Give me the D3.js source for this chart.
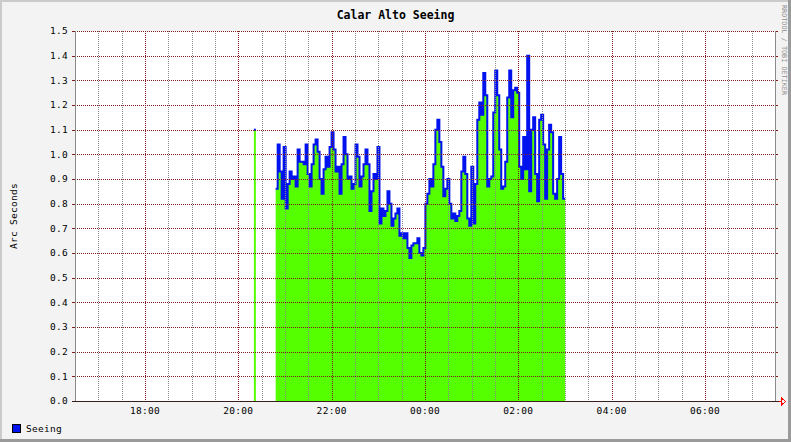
<!DOCTYPE html>
<html>
<head>
<meta charset="utf-8">
<script src="https://cdn.jsdelivr.net/npm/d3@7"></script>
<style>
	body { margin: 0; background: #f3f3f3; }
	svg { display: block; font-family: "DejaVu Sans Mono", monospace; }
</style>
</head>
<body>
<div id="graph"></div>
<script>
let width = 791;
let height = 442;

// plot area of the rrd graph (canvas)
let padding = {
	top: 31,
	right: 16,
	bottom: 41,
	left: 75
	};

// time window shown on the x axis (16:30 -> 07:30 next morning)
let windowStart = "16:30";
let windowEnd = "07:30";

// seeing samples, evenly spaced from sampleStart, one every sampleStep seconds
let sampleStart = "20:48";
let sampleStep = 154;
let seeing = [
	0.86, 1.04, 0.93, 0.82, 1.03, 0.78, 0.88, 0.93, 0.90, 0.91, 0.87, 1.02, 0.97, 0.97, 0.96,
	1.04, 0.92, 0.87, 0.96, 1.04, 1.06, 1.01, 0.90, 0.84, 0.94, 0.99, 0.95, 1.03, 1.09,
	1.02, 0.93, 0.95, 0.84, 0.96, 1.07, 1.00, 0.90, 0.91, 0.86, 0.88, 1.04, 0.99, 0.87, 0.91,
	0.96, 1.02, 0.96, 0.77, 0.85, 0.92, 0.90, 1.03, 0.72, 0.78, 0.75, 0.77, 0.85, 0.80, 0.71,
	0.74, 0.76, 0.78, 0.67, 0.68, 0.66, 0.68, 0.62, 0.58, 0.63, 0.64, 0.64, 0.66, 0.60, 0.59,
	0.62, 0.80, 0.84, 0.90, 0.87, 0.96, 1.10, 1.14, 1.05, 0.95, 0.83, 0.86, 0.90, 0.80, 0.74,
	0.76, 0.73, 0.75, 0.77, 0.93, 0.99, 0.92, 0.74, 0.71, 0.95, 0.72, 0.88, 1.14, 1.21, 1.16,
	1.33, 1.24, 0.87, 0.90, 0.91, 1.17, 1.34, 1.24, 1.02, 0.86, 0.87, 0.97, 1.23, 1.34, 1.15,
	1.26, 1.27, 1.25, 0.95, 0.90, 1.07, 0.94, 1.40, 0.85, 1.10, 1.15, 0.92, 0.81, 1.14, 1.16,
	1.04, 0.82, 1.02, 1.12, 1.09, 0.84, 0.82, 0.90, 1.07, 0.92, 0.82
	];

// lone sample earlier in the evening
let spikeTimes = ["20:20"];
let spikeValues = [1.10];

let yTickLabels = ["0.0", "0.1", "0.2", "0.3", "0.4", "0.5", "0.6", "0.7",
	"0.8", "0.9", "1.0", "1.1", "1.2", "1.3", "1.4", "1.5"];
let xTickLabels = ["18:00", "20:00", "22:00", "00:00", "02:00", "04:00", "06:00"];

let colours = {
	back: "#f3f3f3",
	canvas: "#ffffff",
	shadeA: "#cbcbcb",
	shadeB: "#9a9a9a",
	grid: "#8c8c8c",
	mgrid: "#821e1e",
	area: "#55ff00",
	line: "#0012ee",
	arrow: "#ff0000"
	};

let svg;
let xScale;
let yScale;


// "HH:MM" -> Date; morning hours belong to the next day
function toDate(hm) {
	let [h, m] = hm.split(":").map(Number);
	let day = h < 12 ? 16 : 15;
	return new Date(2009, 5, day, h, m, 0);
	}

function crisp(v) {
	return Math.round(v) + 0.5;
	}


svg = d3.select("#graph")
	.append("svg")
		.attr("width", width)
		.attr("height", height)
	;

// background + 3d border
svg.append("rect")
	.attr("width", width)
	.attr("height", height)
	.attr("fill", colours.back)
	;
svg.append("path")
	.attr("d", `M1,${height} V1 H${width}`)
	.attr("fill", "none")
	.attr("stroke", colours.shadeA)
	.attr("stroke-width", 2)
	;
svg.append("path")
	.attr("d", `M0,${height - 1.5} H${width - 1.5} V0`)
	.attr("fill", "none")
	.attr("stroke", colours.shadeB)
	.attr("stroke-width", 3)
	;

let x0 = padding.left;
let x1 = width - padding.right;
let y0 = height - padding.bottom;
let y1 = padding.top;

svg.append("rect")
	.attr("x", x0)
	.attr("y", y1)
	.attr("width", x1 - x0)
	.attr("height", y0 - y1)
	.attr("fill", colours.canvas)
	;


xScale = d3.scaleTime()
	.domain([toDate(windowStart), toDate(windowEnd)])
	.range([x0, x1])
	;
yScale = d3.scaleLinear()
	.domain([0, 1.5])
	.range([y0, y1])
	;


// build the sample records
let t0 = toDate(sampleStart);
let mainRun = seeing.map((v, i) => ({
	t: new Date(t0.getTime() + i * sampleStep * 1000),
	v: v
	}));
let spikeRun = spikeTimes.map((s, i) => ({ t: toDate(s), v: spikeValues[i] }));

// close each run with an end point so the last step gets its width
function closeRun(run) {
	let last = run[run.length - 1];
	return run.concat([{ t: new Date(last.t.getTime() + sampleStep * 1000), v: last.v }]);
	}
let runs = [closeRun(spikeRun), closeRun(mainRun)];

let area = d3.area()
	.x(d => xScale(d.t))
	.y0(yScale(0))
	.y1(d => yScale(d.v))
	.curve(d3.curveStepAfter)
	;
let line = d3.line()
	.x(d => xScale(d.t))
	.y(d => yScale(d.v))
	.curve(d3.curveStepAfter)
	;

svg.append("g")
	.selectAll("path")
	.data(runs)
	.enter()
		.append("path")
			.attr("d", area)
			.attr("fill", colours.area)
	;
svg.append("g")
	.selectAll("path")
	.data(runs)
	.enter()
		.append("path")
			.attr("d", line)
			.attr("fill", "none")
			.attr("stroke", colours.line)
			.attr("stroke-width", 2)
	;


// grid goes on top of the data, like rrdtool
let grid = svg.append("g")
	.attr("shape-rendering", "crispEdges")
	;

// minor x grid every 30 minutes
let minorTicks = d3.timeMinute.every(30).range(xScale.domain()[0], xScale.domain()[1])
	.filter(d => d > xScale.domain()[0] && d.getHours() % 2 + d.getMinutes() !== 0);
grid.selectAll(".minor")
	.data(minorTicks)
	.enter()
		.append("line")
			.attr("class", "minor")
			.attr("x1", d => crisp(xScale(d)))
			.attr("x2", d => crisp(xScale(d)))
			.attr("y1", y1)
			.attr("y2", y0)
			.attr("stroke", colours.grid)
			.attr("stroke-dasharray", "1,1")
	;

// major x grid every 2 hours
let majorTicks = xTickLabels.map(toDate);
grid.selectAll(".major")
	.data(majorTicks)
	.enter()
		.append("line")
			.attr("class", "major")
			.attr("x1", d => crisp(xScale(d)))
			.attr("x2", d => crisp(xScale(d)))
			.attr("y1", y1)
			.attr("y2", y0)
			.attr("stroke", colours.mgrid)
			.attr("stroke-dasharray", "1,1")
	;

// y grid + ticks on both sides
let yTicks = yTickLabels.map(Number);
grid.selectAll(".ygrid")
	.data(yTicks)
	.enter()
		.append("line")
			.attr("class", "ygrid")
			.attr("x1", x0)
			.attr("x2", x1)
			.attr("y1", d => crisp(yScale(d)))
			.attr("y2", d => crisp(yScale(d)))
			.attr("stroke", colours.mgrid)
			.attr("stroke-dasharray", "1,1")
	;
grid.selectAll(".ytickL")
	.data(yTicks)
	.enter()
		.append("line")
			.attr("x1", x0 - 3)
			.attr("x2", x0)
			.attr("y1", d => crisp(yScale(d)))
			.attr("y2", d => crisp(yScale(d)))
			.attr("stroke", colours.mgrid)
	;
grid.selectAll(".ytickR")
	.data(yTicks)
	.enter()
		.append("line")
			.attr("x1", x1)
			.attr("x2", x1 + 3)
			.attr("y1", d => crisp(yScale(d)))
			.attr("y2", d => crisp(yScale(d)))
			.attr("stroke", colours.mgrid)
	;

// frame: side axes in grey, x axis dark with red arrow
grid.append("line")
	.attr("x1", x0 + 0.5).attr("x2", x0 + 0.5)
	.attr("y1", y1).attr("y2", y0)
	.attr("stroke", "#8a8a8a")
	;
grid.append("line")
	.attr("x1", x1 + 0.5).attr("x2", x1 + 0.5)
	.attr("y1", y1).attr("y2", y0)
	.attr("stroke", "#8a8a8a")
	;
grid.append("line")
	.attr("x1", x0 - 3).attr("x2", x1 + 4)
	.attr("y1", crisp(y0)).attr("y2", crisp(y0))
	.attr("stroke", "#3a1e1e")
	;
grid.append("path")
	.attr("d", `M${x1 + 4},${crisp(y0)} H${x1 + 6} M${x1 + 6.5},${y0 - 3} V${y0 + 4} L${x1 + 10.5},${crisp(y0)} Z`)
	.attr("fill", "none")
	.attr("stroke", colours.arrow)
	;


// axis labels
svg.append("g")
	.selectAll("text")
	.data(yTickLabels)
	.enter()
		.append("text")
			.attr("x", x0 - 7)
			.attr("y", d => yScale(+d))
			.attr("dy", "0.35em")
			.attr("text-anchor", "end")
			.style("font-size", "9.5px")
			.style("letter-spacing", "0.3px")
			.text(d => d)
	;
svg.append("g")
	.selectAll("text")
	.data(xTickLabels)
	.enter()
		.append("text")
			.attr("x", d => xScale(toDate(d)))
			.attr("y", y0 + 13)
			.attr("text-anchor", "middle")
			.style("font-size", "9.5px")
			.style("letter-spacing", "0.3px")
			.text(d => d)
	;

// title
svg.append("text")
	.attr("x", width / 2)
	.attr("y", 19)
	.attr("text-anchor", "middle")
	.style("font-size", "11.5px")
	.style("font-weight", "bold")
	.text("Calar Alto Seeing")
	;

// vertical label
svg.append("text")
	.attr("transform", `translate(17, ${(y0 + y1) / 2}) rotate(-90)`)
	.attr("text-anchor", "middle")
	.style("font-size", "9.5px")
	.style("letter-spacing", "0.3px")
	.text("Arc Seconds")
	;

// rrdtool watermark on the right edge
svg.append("text")
	.attr("transform", `translate(781.5, 5) rotate(90)`)
	.attr("text-anchor", "start")
	.style("font-size", "6.8px")
	.attr("fill", "#8f8f8f")
	.text("RRDTOOL / TOBI OETIKER")
	;

// legend
svg.append("rect")
	.attr("x", 12.5)
	.attr("y", 424.5)
	.attr("width", 8)
	.attr("height", 8)
	.attr("fill", colours.line)
	.attr("stroke", "#000")
	;
svg.append("text")
	.attr("x", 26)
	.attr("y", 432)
	.style("font-size", "9.5px")
	.style("letter-spacing", "0.3px")
	.text("Seeing")
	;
</script>
</body>
</html>
